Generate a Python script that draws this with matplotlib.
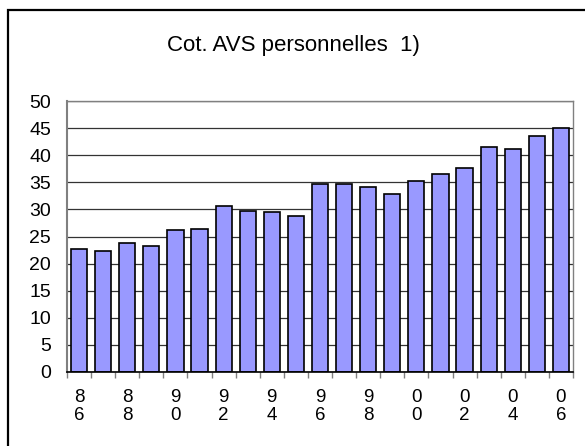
import matplotlib
matplotlib.use("Agg")
import matplotlib.pyplot as plt
from matplotlib.patches import Rectangle
import numpy as np

plt.rcParams["font.family"] = ["Liberation Sans", "DejaVu Sans"]

years = list(range(1986, 2007))
values = [22.7, 22.3, 23.8, 23.25, 26.2, 26.4, 30.55, 29.7, 29.45, 28.8,
          34.7, 34.7, 34.1, 32.9, 35.3, 36.5, 37.6, 41.5, 41.1, 43.5, 45.1]
title = "Cot. AVS personnelles  1)"
y_ticks = list(range(0, 55, 5))

W, H = 585, 446
fig = plt.figure(figsize=(W / 100, H / 100), dpi=100)

# outer frame (clipped at right and bottom like the original)
fig.patches.append(Rectangle((8 / W, -0.05), 1.2, 1 - 10 / H + 0.05,
                             transform=fig.transFigure, fill=False,
                             edgecolor="black", linewidth=1.6))

left, right, top, bottom = 67, 573, 101, 372
ax = fig.add_axes([left / W, 1 - bottom / H, (right - left) / W, (bottom - top) / H])

x = np.arange(len(years))
ax.bar(x, values, width=0.67, color="#9999FF", edgecolor="black", linewidth=1.2, zorder=3)

ax.set_xlim(-0.5, len(years) - 0.5)
ax.set_ylim(0, 50)
ax.set_yticks(y_ticks)
ax.set_yticklabels([str(v) for v in y_ticks], fontsize=14)
ax.tick_params(axis="y", length=0, pad=11.5)
ax.yaxis.grid(True, color="#333333", linewidth=0.9, zorder=0)

# category boundary ticks
ax.set_xticks(np.arange(-0.5, len(years), 1.0))
ax.set_xticklabels([])
ax.tick_params(axis="x", which="major", length=4, color="#808080", width=1)
# labels every other year, digits stacked
labels = ["%s\n%s" % tuple(str(y)[2:]) for y in years]
ax.set_xticks(x[::2], minor=True)
ax.set_xticklabels(labels[::2], minor=True, fontsize=13.5, linespacing=1.1)
ax.tick_params(axis="x", which="minor", length=0, pad=12)

for s in ["top", "right"]:
    ax.spines[s].set_color("#808080")
    ax.spines[s].set_linewidth(1.0)
ax.spines["left"].set_color("#808080")
ax.spines["left"].set_linewidth(1.5)
ax.spines["bottom"].set_color("black")
ax.spines["bottom"].set_linewidth(1.2)
ax.spines["bottom"].set_zorder(4)

fig.text(293.5 / W, 1 - 50.7 / H, title, ha="center", va="baseline", fontsize=16)

fig.savefig("out.png", dpi=100)
